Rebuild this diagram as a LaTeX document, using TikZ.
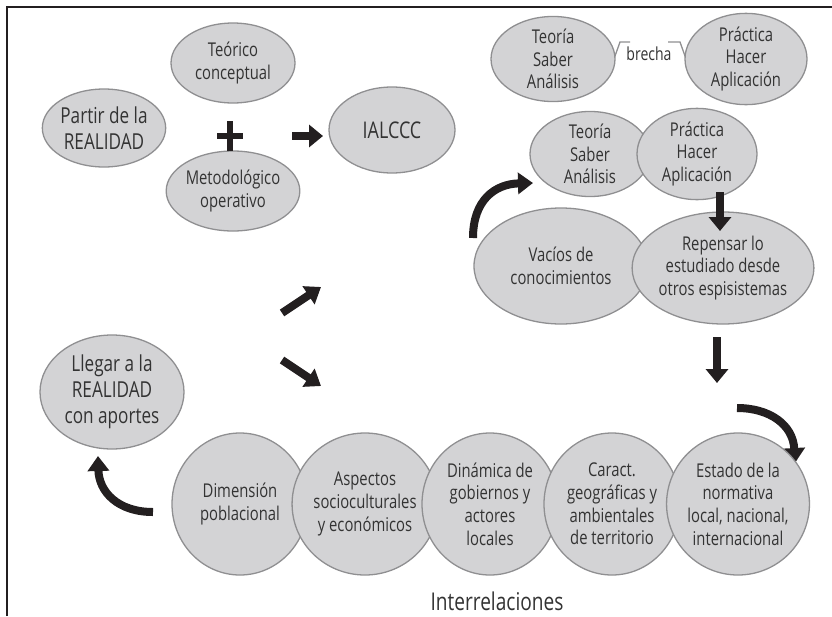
\documentclass[tikz,border=0pt]{standalone}
\usepackage{fontspec}
\setmainfont{Open Sans}[FakeStretch=0.78]
\usetikzlibrary{shapes.geometric,arrows.meta,calc}
\definecolor{fillg}{HTML}{D3D3D5}
\definecolor{edgeg}{HTML}{8F8F91}
\definecolor{txt}{HTML}{333333}
\definecolor{arr}{HTML}{231F20}
\tikzset{
  blob/.style={ellipse, draw=edgeg, fill=fillg, line width=1.3pt, inner sep=0pt,
    align=center, text=txt, font=\fontsize{19}{22.7}\selectfont},
  bigtext/.style={font=\fontsize{22}{26}\selectfont},
  fat/.style={draw=arr, line width=7.5pt, -{Triangle[width=22pt,length=14pt]}},
  fatmid/.style={draw=arr, line width=8pt, -{Triangle[width=21pt,length=15pt]}},
  bracket/.style={draw=edgeg, line width=1.3pt},
}
\begin{document}
\begin{tikzpicture}[x=1pt,y=-1pt]
\useasboundingbox (0,0) rectangle (832,616);
\draw[arr, line width=2pt] (7,616) -- (7,7) -- (832,7);

% top-left group
\node[blob,bigtext,minimum width=122pt,minimum height=78pt] (partir) at (104,128) {Partir de la\\REALIDAD};
\node[blob,minimum width=124pt,minimum height=80pt] (teorico) at (233,63) {Teórico\\conceptual};
\node[blob,minimum width=124pt,minimum height=80pt] (metodo) at (233,191) {Metodológico\\operativo};
\node[blob,font=\fontsize{23}{27}\selectfont,minimum width=126pt,minimum height=86pt] (ialccc) at (392,130) {IALCCC};
\coordinate (plus) at (230,136);
\draw[arr, line width=6.5pt] ($(plus)+(-13,0)$) -- ($(plus)+(13,0)$);
\draw[arr, line width=6.5pt] ($(plus)+(0,-15)$) -- ($(plus)+(0,15)$);
\coordinate (a1s) at (292,136);
\coordinate (a1e) at (323,136);
\draw[fat] (a1s) -- (a1e);

% top-right brecha
\node[blob,minimum width=124pt,minimum height=82pt] (teoriaA) at (553,59) {Teoría\\Saber\\Análisis};
\node[blob,minimum width=122pt,minimum height=82pt] (practA) at (746,59) {Práctica\\Hacer\\Aplicación};
\node[text=txt, font=\fontsize{18}{21}\selectfont] (brecha) at (649,54) {brecha};
\draw[bracket] ($(teoriaA.east)+(-1,-2)$) -- (620,42) -- (630,42);
\draw[bracket] (668,42) -- (680,42) -- ($(practA.west)+(1,-2)$);

% middle right
\node[blob,minimum width=120pt,minimum height=76pt] (teoriaB) at (590,154) {Teoría\\Saber\\Análisis};
\node[blob,minimum width=120pt,minimum height=76pt] (practB) at (697,154) {Práctica\\Hacer\\Aplicación};
\node[blob,minimum width=174pt,minimum height=116pt] (vacios) at (561,266) {Vacíos de\\conocimientos};
\node[blob,minimum width=168pt,minimum height=112pt] (repensar) at (723,268) {Repensar lo\\estudiado desde\\otros espisistemas};
\coordinate (d1s) at (720,192);
\coordinate (d1e) at (720,231);
\draw[fat] (d1s) -- (d1e);
\coordinate (c1s) at (473,238);
\coordinate (c1e) at (533,183);
\draw[fatmid] (c1s) .. controls (473,200) and (495,184) .. (c1e);

% middle arrows
\coordinate (m1s) at (282,313);
\coordinate (m1e) at (321,287);
\draw[fatmid] (m1s) -- (m1e);
\coordinate (m2s) at (282,360);
\coordinate (m2e) at (321,386);
\draw[fatmid] (m2s) -- (m2e);

\coordinate (d2s) at (717,337);
\coordinate (d2e) at (717,383);
\draw[fat] (d2s) -- (d2e);
\coordinate (c2s) at (737,408);
\coordinate (c2e) at (795,463);
\draw[fatmid] (c2s) .. controls (770,408) and (793,425) .. (c2e);

% bottom
\node[blob,bigtext,minimum width=144pt,minimum height=114pt] (llegar) at (112,392) {Llegar a la\\REALIDAD\\con aportes};
\coordinate (c3s) at (153,512);
\coordinate (c3e) at (98,456);
\draw[fatmid] (c3s) .. controls (118,512) and (99,492) .. (c3e);

\foreach \nm/\xx/\tt in {dim/240/{Dimensión\\poblacional},
  asp/365/{Aspectos\\socioculturales\\y económicos},
  din/490/{Dinámica de\\gobiernos y\\actores\\locales},
  car/612/{Caract.\\geográficas y\\ambientales\\de territorio},
  est/738/{Estado de la\\normativa\\local, nacional,\\internacional}}
  \node[blob,minimum width=136pt,minimum height=142pt] (\nm) at (\xx,504) {\tt};

\node[text=txt, font=\fontsize{24.5}{28}\selectfont] (inter) at (497,601) {Interrelaciones};
\end{tikzpicture}
\end{document}
